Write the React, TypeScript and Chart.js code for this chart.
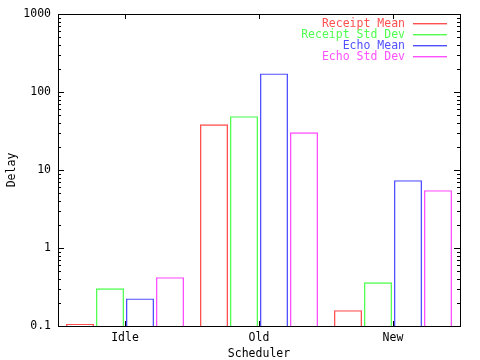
import { useEffect, useRef } from "react";
import { Chart, registerables } from "chart.js";

Chart.register(...registerables);

const categories = ["Idle", "Old", "New"];
const seriesLabels = ["Receipt Mean", "Receipt Std Dev", "Echo Mean", "Echo Std Dev"];
const receiptMean = [0.106, 38.5, 0.159];
const receiptStdDev = [0.304, 48.8, 0.363];
const echoMean = [0.226, 173, 7.38];
const echoStdDev = [0.421, 30.4, 5.49];
const seriesColors = ["#ff5050", "#50ff50", "#5050ff", "#ff50ff"];
const yTickValues = [0.1, 1, 10, 100, 1000];
const yTickLabels = ["0.1", "1", "10", "100", "1000"];
const xTitle = "Scheduler";
const yTitle = "Delay";

const FONT = "'DejaVu Sans Mono', monospace";
const FONT_SIZE = 11.5;

const frameAndTicks = {
  id: "frameAndTicks",
  afterDatasetsDraw(chart: any) {
    const { ctx, chartArea } = chart;
    const { left, right, top, bottom } = chartArea;
    const x = chart.scales.x;
    const y = chart.scales.y;
    ctx.save();
    ctx.strokeStyle = "#000";
    ctx.lineWidth = 1;
    ctx.beginPath();
    const min = y.min;
    const max = y.max;
    for (let e = Math.round(Math.log10(min)); e < Math.round(Math.log10(max)) + 1; e++) {
      for (let m = 1; m <= 9; m++) {
        const v = m * Math.pow(10, e);
        if (v < min * 0.999 || v > max * 1.001) continue;
        const py = Math.round(y.getPixelForValue(v)) + 0.5;
        const len = m === 1 ? 6 : 3;
        ctx.moveTo(left, py);
        ctx.lineTo(left + len, py);
        ctx.moveTo(right, py);
        ctx.lineTo(right - len, py);
      }
    }
    categories.forEach((_, i) => {
      const px = Math.round(x.getPixelForTick(i)) + 0.5;
      ctx.moveTo(px, bottom);
      ctx.lineTo(px, bottom - 5);
      ctx.moveTo(px, top);
      ctx.lineTo(px, top + 5);
    });
    ctx.stroke();
    ctx.strokeRect(Math.round(left) + 0.5, Math.round(top) + 0.5, Math.round(right - left), Math.round(bottom - top));
    ctx.font = `${FONT_SIZE}px ${FONT}`;
    ctx.textAlign = "right";
    ctx.textBaseline = "middle";
    chart.data.datasets.forEach((ds: any, i: number) => {
      const ly = 23 + i * 11;
      const color = seriesColors[i];
      ctx.fillStyle = color;
      ctx.fillText(ds.label, 405, ly + 1.5);
      ctx.fillRect(413, ly, 34, 1.4);
    });
    ctx.restore();
  },
};

export default function App() {
  const ref = useRef<HTMLCanvasElement | null>(null);
  useEffect(() => {
    document.body.style.margin = "0";
    const seriesValues = [receiptMean, receiptStdDev, echoMean, echoStdDev];
    const chart = new Chart(ref.current!, {
      type: "bar",
      data: {
        labels: categories,
        datasets: seriesLabels.map((label, i) => ({
          label,
          data: seriesValues[i],
          backgroundColor: "rgba(0,0,0,0)",
          borderColor: seriesColors[i],
          borderWidth: 1.3,
          borderSkipped: "start",
          inflateAmount: 0,
          categoryPercentage: 120 / 134,
          barPercentage: 28 / 30,
        })),
      },
      options: {
        animation: false,
        responsive: false,
        maintainAspectRatio: false,
        layout: { padding: { left: 0, right: 20, top: 14, bottom: 0 } },
        plugins: { legend: { display: false }, tooltip: { enabled: false } },
        scales: {
          x: {
            grid: { display: false, drawTicks: false },
            border: { display: false },
            ticks: { color: "#000", font: { family: FONT, size: FONT_SIZE }, padding: 5, maxRotation: 0 },
            title: { display: true, text: xTitle, color: "#000", font: { family: FONT, size: FONT_SIZE, lineHeight: 1.0 }, padding: 0 },
            afterFit: (s: any) => { s.height = 34; },
          },
          y: {
            type: "logarithmic",
            min: 0.1,
            max: 1000,
            grid: { display: false, drawTicks: false },
            border: { display: false },
            afterBuildTicks: (s: any) => { s.ticks = yTickValues.map((v) => ({ value: v })); },
            ticks: {
              color: "#000",
              font: { family: FONT, size: FONT_SIZE },
              padding: 7,
              autoSkip: false,
              callback: (v: any) => {
                const idx = yTickValues.findIndex((t) => Math.abs(t - v) < 1e-9 * Math.max(1, t));
                return idx >= 0 ? yTickLabels[idx] : "";
              },
            },
            title: { display: true, text: yTitle, color: "#000", font: { family: FONT, size: FONT_SIZE }, padding: { top: 5, bottom: 0 } },
            afterFit: (s: any) => { s.width = 58; },
          },
        },
      },
      plugins: [frameAndTicks],
    });
    return () => chart.destroy();
  }, []);
  return <canvas ref={ref} width={480} height={360} style={{ display: "block" }} />;
}
